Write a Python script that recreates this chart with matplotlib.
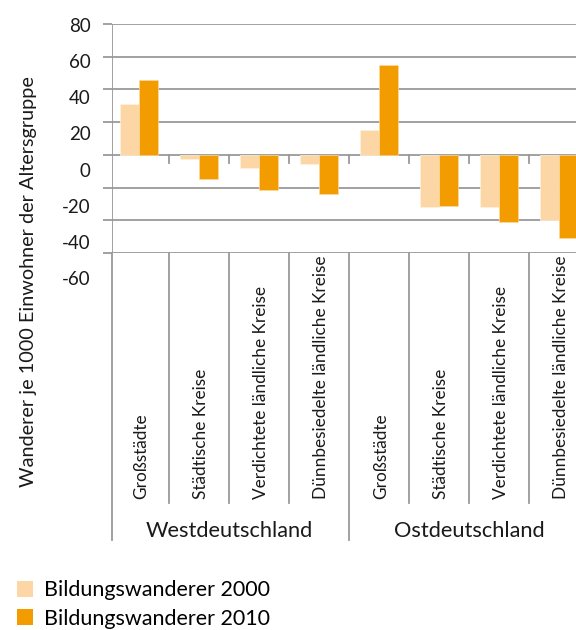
import matplotlib
matplotlib.use("Agg")
import matplotlib.pyplot as plt
from matplotlib.transforms import blended_transform_factory
from matplotlib.patches import Patch

plt.rcParams['font.family'] = ['Lato', 'DejaVu Sans']

# Data
regions = ["Westdeutschland", "Ostdeutschland"]
categories = ["Großstädte", "Städtische Kreise", "Verdichtete ländliche Kreise",
              "Dünnbesiedelte ländliche Kreise"]
labels = categories * 2
values_2000 = [31, -2.7, -8.2, -5.7, 15.5, -32, -32, -40]
values_2010 = [46, -15, -21.7, -24, 55, -31.5, -41, -51]
series_names = ["Bildungswanderer 2000", "Bildungswanderer 2010"]
yticks = [-60, -40, -20, 0, 20, 40, 60, 80]
y_title = "Wanderer je 1000 Einwohner der Altersgruppe"

c2000 = "#FDD6A5"
c2010 = "#F39C00"
grid_c = "#9a9a9a"

W, H = 576, 630
fig = plt.figure(figsize=(W / 100, H / 100), dpi=100)

def fx(px):
    return px / W

def fy(py):
    return 1 - py / H

# plot area: top at 24 px, bottom at 253 px, left spine at 112 px
ax_left, ax_right, ax_top, ax_bot = 112, 589, 24, 253
ax = fig.add_axes([fx(ax_left), fy(ax_bot), fx(ax_right - ax_left), (ax_bot - ax_top) / H])
ax.set_ylim(-60, 80)
ax.set_xlim(-0.45, 7.5)

n = len(labels)
xs = list(range(n))
bw = 0.31
ax.bar([x - bw / 2 for x in xs], values_2000, width=bw, color=c2000,
       edgecolor="#fff1de", linewidth=0.5, zorder=3)
ax.bar([x + bw / 2 for x in xs], values_2010, width=bw, color=c2010,
       edgecolor="#fbd9a0", linewidth=0.5, zorder=3)

for s in ax.spines.values():
    s.set_visible(False)
ax.set_yticks(yticks)
ax.set_yticklabels([])
ax.yaxis.grid(True, color=grid_c, linewidth=1.3, zorder=1)
ax.tick_params(axis="y", length=6.5, width=1.3, color=grid_c)
ax.set_xticks([])

# vertical value axis line
ax.axvline(-0.45, ymin=0, ymax=1, color=grid_c, linewidth=1.3, zorder=2)

# small category ticks on the zero line
for k in range(1, n + 1):
    ax.plot([k - 0.5, k - 0.5], [0, -4.9], color=grid_c, linewidth=1.3,
            zorder=2, clip_on=False)

# tick labels drawn on a separate axes with its own spacing
lab_top, lab_bot = 25, 278
lab_ax = fig.add_axes([fx(ax_left), fy(lab_bot), 0.01, (lab_bot - lab_top) / H])
lab_ax.set_ylim(-60, 80)
lab_ax.set_yticks(yticks)
lab_ax.set_yticklabels([str(v) for v in yticks], fontsize=13.5, color="#1a1a1a")
lab_ax.tick_params(axis="y", length=0, pad=15.5)
lab_ax.set_xticks([])
for s in lab_ax.spines.values():
    s.set_visible(False)
lab_ax.patch.set_alpha(0)

# category area below the plot
tr = blended_transform_factory(ax.transData, fig.transFigure)
for k in range(1, n):
    if k == 4:
        continue
    ax.plot([k - 0.5, k - 0.5], [fy(253), fy(503)], transform=tr, color=grid_c,
            linewidth=1.3, clip_on=False)
for k in [-0.45, 3.5, 7.5]:
    ax.plot([k, k], [fy(253), fy(540)], transform=tr, color=grid_c,
            linewidth=1.3, clip_on=False)

for x, lab in zip(xs, labels):
    ax.text(x + 0.04, fy(499), lab, rotation=90, ha="center", va="bottom",
            transform=tr, fontsize=12.4, color="#1a1a1a")

for i, reg in enumerate(regions):
    ax.text(1.5 + 4 * i, fy(531), reg, ha="center", va="center",
            transform=tr, fontsize=15.7, color="#1a1a1a")

fig.text(fx(29), fy(282), y_title, rotation=90, ha="center", va="center",
         fontsize=14.3, color="#1a1a1a")

handles = [Patch(facecolor=c2000, edgecolor="none"),
           Patch(facecolor=c2010, edgecolor="none")]
fig.legend(handles, series_names, loc="upper left",
           bbox_to_anchor=(fx(11), fy(574)), frameon=False, fontsize=15.5,
           handlelength=0.74, handleheight=0.74, handletextpad=0.5,
           labelspacing=0.38, borderaxespad=0, borderpad=0.3)

fig.savefig("out.png", dpi=100)
